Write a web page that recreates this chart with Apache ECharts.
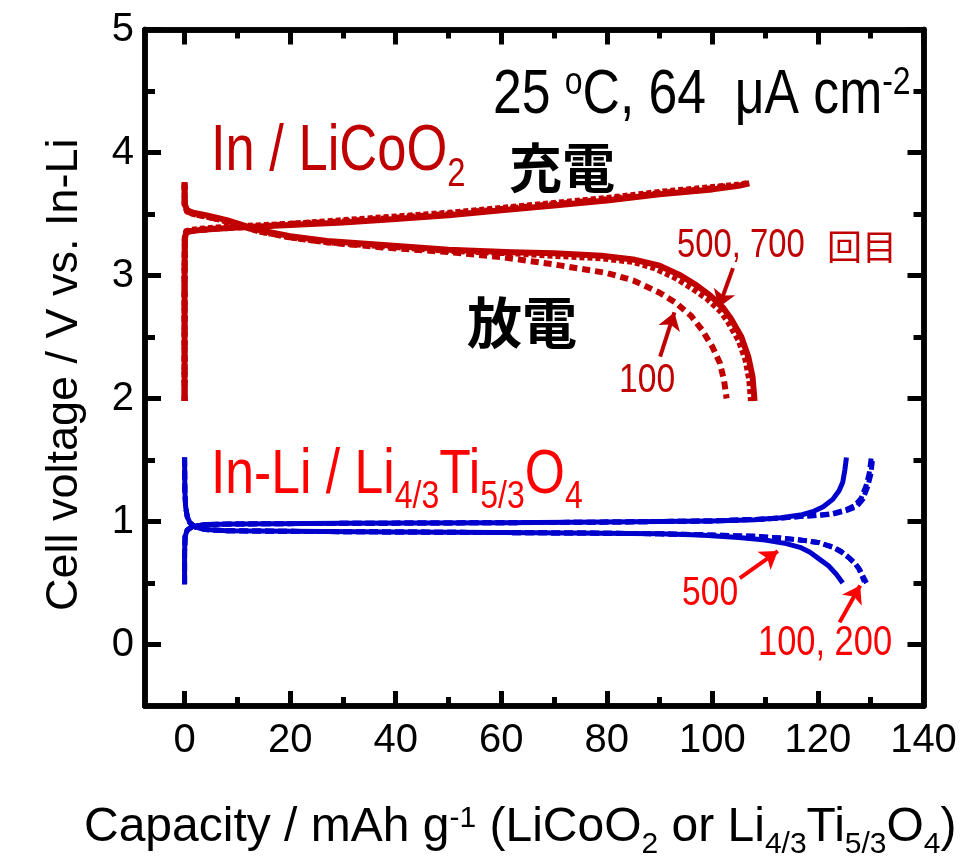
<!DOCTYPE html>
<html><head><meta charset="utf-8">
<script src="https://cdn.jsdelivr.net/npm/echarts@6/dist/echarts.min.js"></script>
<style>html,body{margin:0;padding:0;background:#fff}#c{width:978px;height:866px}</style>
</head><body><div id="c"></div>
<script>
// ---------- axis ticks ----------
const xTicks = [0, 20, 40, 60, 80, 100, 120, 140];
const xMinorTicks = [10, 30, 50, 70, 90, 110, 130];
const yTicks = [0, 1, 2, 3, 4, 5];
const yMinorTicks = [0.5, 1.5, 2.5, 3.5, 4.5];

// ---------- In / LiCoO2 : charge ----------
const lcoChg700X = [0, 0, 0.05, 0.3, 1, 3, 6, 10, 15, 20, 30, 40, 50, 60, 70, 80, 90, 100, 105, 107];
const lcoChg700V = [1.98, 3.0, 3.30, 3.35, 3.36, 3.37, 3.38, 3.39, 3.40, 3.41, 3.43, 3.46, 3.49, 3.53, 3.57, 3.61, 3.66, 3.70, 3.73, 3.75];
const lcoChg500X = [0, 0, 0.05, 0.3, 1, 3, 6, 10, 15, 20, 30, 40, 50, 60, 70, 80, 90, 100, 105, 106.5];
const lcoChg500V = [1.98, 3.0, 3.31, 3.36, 3.37, 3.38, 3.39, 3.40, 3.41, 3.42, 3.45, 3.48, 3.51, 3.55, 3.59, 3.63, 3.68, 3.72, 3.74, 3.75];
const lcoChg100X = [0, 0, 0.05, 0.3, 1, 3, 6, 10, 15, 20, 30, 40, 50, 60, 70, 80, 90, 100, 103];
const lcoChg100V = [1.98, 3.0, 3.30, 3.35, 3.36, 3.37, 3.38, 3.39, 3.40, 3.42, 3.44, 3.47, 3.50, 3.54, 3.58, 3.62, 3.67, 3.71, 3.73];

// ---------- In / LiCoO2 : discharge ----------
const lcoDis700X = [0, 0.02, 0.5, 1.6, 4, 8, 11, 14, 20, 27, 37, 50, 62, 70, 79, 85, 90, 94, 97, 99.5, 102, 103.5, 105.5, 106.8, 107.6, 108];
const lcoDis700V = [3.76, 3.58, 3.53, 3.51, 3.49, 3.45, 3.41, 3.37, 3.32, 3.28, 3.25, 3.21, 3.19, 3.18, 3.16, 3.13, 3.08, 3.00, 2.92, 2.84, 2.74, 2.65, 2.50, 2.34, 2.18, 1.98];
const lcoDis500X = [0, 0.02, 0.5, 1.6, 4, 8, 11, 14, 20, 27, 37, 50, 62, 70, 79, 85, 89, 93, 96, 99, 101.5, 103, 105, 106.3, 107, 107.3];
const lcoDis500V = [3.74, 3.57, 3.52, 3.50, 3.48, 3.44, 3.40, 3.36, 3.31, 3.27, 3.24, 3.20, 3.18, 3.16, 3.14, 3.11, 3.06, 2.98, 2.90, 2.81, 2.71, 2.62, 2.47, 2.31, 2.15, 1.98];
const lcoDis100X = [0, 0.02, 0.5, 1.6, 4, 8, 11, 14, 20, 27, 37, 50, 60, 70, 80, 85, 90, 93, 96, 98, 100, 101.4, 102.2, 102.7];
const lcoDis100V = [3.75, 3.57, 3.52, 3.50, 3.48, 3.44, 3.40, 3.36, 3.31, 3.27, 3.23, 3.19, 3.15, 3.09, 3.02, 2.96, 2.86, 2.78, 2.67, 2.56, 2.42, 2.29, 2.15, 2.00];

// ---------- In-Li / Li4/3Ti5/3O4 : upper branch ----------
const ltoUp500X = [0, 0, 0.1, 0.5, 1.5, 4, 10, 30, 60, 80, 100, 108, 113, 117, 119, 121, 122.8, 124, 124.7, 125.1, 125.4];
const ltoUp500V = [0.49, 0.75, 0.88, 0.93, 0.96, 0.975, 0.98, 0.985, 0.99, 0.995, 1.005, 1.015, 1.03, 1.055, 1.08, 1.12, 1.18, 1.25, 1.32, 1.42, 1.52];
const ltoUp100X = [0, 0, 0.1, 0.5, 1.5, 4, 10, 30, 60, 80, 100, 110, 116.6, 120, 122.8, 125.5, 127.3, 128.5, 129.4, 130, 130.4];
const ltoUp100V = [0.49, 0.75, 0.88, 0.93, 0.96, 0.975, 0.98, 0.985, 0.99, 0.995, 1.005, 1.02, 1.04, 1.05, 1.06, 1.09, 1.12, 1.18, 1.28, 1.38, 1.52];
const ltoUp200X = [0, 0, 0.1, 0.5, 1.5, 4, 10, 30, 60, 80, 100, 110, 116.6, 120, 122.8, 125.3, 127.0, 128.2, 129.1, 129.7, 130.1];
const ltoUp200V = [0.49, 0.75, 0.88, 0.93, 0.96, 0.975, 0.98, 0.985, 0.99, 0.995, 1.005, 1.02, 1.04, 1.05, 1.065, 1.095, 1.13, 1.19, 1.29, 1.39, 1.52];

// ---------- In-Li / Li4/3Ti5/3O4 : lower branch ----------
const ltoLo500X = [0, 0.05, 0.2, 0.5, 1, 2, 4, 8, 20, 40, 60, 79, 90, 97.6, 105, 110, 114, 116.6, 118.5, 120.4, 122, 123.5, 124.7];
const ltoLo500V = [1.52, 1.25, 1.12, 1.04, 0.99, 0.955, 0.935, 0.925, 0.92, 0.915, 0.91, 0.905, 0.90, 0.89, 0.87, 0.85, 0.82, 0.79, 0.75, 0.69, 0.64, 0.57, 0.50];
const ltoLo100X = [0, 0.05, 0.2, 0.5, 1, 2, 4, 8, 20, 40, 60, 79, 90, 100, 108, 113, 116.6, 120, 122.8, 124.5, 126, 127.2, 127.9, 128.6, 129.2];
const ltoLo100V = [1.52, 1.25, 1.12, 1.04, 0.99, 0.955, 0.935, 0.925, 0.92, 0.915, 0.91, 0.905, 0.90, 0.89, 0.88, 0.865, 0.85, 0.83, 0.79, 0.75, 0.70, 0.65, 0.61, 0.55, 0.50];
const ltoLo200X = [0, 0.05, 0.2, 0.5, 1, 2, 4, 8, 20, 40, 60, 79, 90, 100, 108, 113, 116.6, 120, 122.8, 124.3, 125.8, 127.0, 127.7, 128.3, 128.8];
const ltoLo200V = [1.52, 1.25, 1.12, 1.04, 0.99, 0.955, 0.935, 0.925, 0.92, 0.915, 0.91, 0.905, 0.90, 0.89, 0.88, 0.865, 0.85, 0.83, 0.795, 0.76, 0.71, 0.66, 0.62, 0.56, 0.51];

// ---------- annotation arrows (capacity, voltage): from -> to ----------
const arrowLco700 = [[103.9, 3.06], [101.2, 2.74]];
const arrowLco100 = [[90.1, 2.34], [92.8, 2.70]];
const arrowLto500 = [[105.2, 0.54], [112.4, 0.76]];
const arrowLto100 = [[124.1, 0.18], [128.0, 0.48]];

// ---------- fonts / colours ----------
const SANS = "'Liberation Sans Narrow','Arial Narrow','Liberation Sans',Arial,sans-serif";
const CJK = "'Noto Sans CJK JP','Noto Sans CJK SC',sans-serif";
const DARKRED = '#c00000';
const RED = '#ff0000';
const BLUE = '#0000cc';
const NARROW_SCALE = 0.82;

const zip = (xs, ys) => xs.map((x, i) => [x, ys[i]]);

function rich(s, color, key) {
  const ss = Math.round(s * 0.62);
  const c = {}; c[key] = color;
  return {
    m: Object.assign({fontSize: s, lineHeight: s, verticalAlign: 'top', fontFamily: SANS}, c),
    sub: Object.assign({fontSize: ss, verticalAlign: 'top', fontFamily: SANS, padding: [0.8465 * (s - ss) + 0.22 * s, 0, 0, 0]}, c),
    sup: Object.assign({fontSize: ss, verticalAlign: 'top', fontFamily: SANS, padding: [0, 0, 0, 0]}, c)
  };
}

function lineSeries(name, xs, ys, color, width, type) {
  return {
    name, type: 'line', data: zip(xs, ys), showSymbol: false, symbol: 'none',
    lineStyle: {color, width, type, cap: 'butt', join: 'round'},
    xAxisIndex: 0, yAxisIndex: 0, silent: true, z: 3
  };
}

function arrowSeries(name, arr, color) {
  return {
    name, type: 'line', data: [], xAxisIndex: 0, yAxisIndex: 0, silent: true,
    markLine: {
      silent: true, animation: false, symbol: ['none', 'arrow'], symbolSize: 17,
      label: {show: false},
      lineStyle: {color, width: 4, type: 'solid'},
      data: [[{coord: arr[0], symbol: 'none'}, {coord: arr[1], symbol: 'arrow', symbolSize: 17}]]
    }
  };
}

const XMIN = -7.5, XMAX = 140, YMIN = -0.5, YMAX = 5;
const axisLine = {show: true, onZero: false, lineStyle: {color: '#000', width: 5.5}};
function xAx(pos, ticks, len, withLabel, extra) {
  return Object.assign({
    type: 'value', position: pos, min: XMIN, max: XMAX,
    axisLine: axisLine, splitLine: {show: false},
    axisTick: {show: true, inside: true, length: len, customValues: ticks, lineStyle: {color: '#000', width: 5}},
    axisLabel: withLabel ? {show: true, customValues: ticks, fontSize: 40, lineHeight: 40, fontFamily: SANS, color: '#000', margin: 15} : {show: false}
  }, extra || {});
}
function yAx(pos, ticks, len, withLabel, extra) {
  return Object.assign({
    type: 'value', position: pos, min: YMIN, max: YMAX,
    axisLine: axisLine, splitLine: {show: false},
    axisTick: {show: true, inside: true, length: len, customValues: ticks, lineStyle: {color: '#000', width: 5}},
    axisLabel: withLabel ? {show: true, customValues: ticks, fontSize: 40, lineHeight: 40, fontFamily: SANS, color: '#000', margin: 11} : {show: false}
  }, extra || {});
}

function note(x, baseline, s, text, color, extraRich) {
  return {
    type: 'text', x: x, y: baseline - 0.8465 * s, scaleX: NARROW_SCALE, z: 10, silent: true,
    style: {text: text, rich: Object.assign(rich(s, color, 'fill'), extraRich || {}), align: 'left', verticalAlign: 'top'}
  };
}

const chart = echarts.init(document.getElementById('c'), null, {renderer: 'canvas'});

const option = {
  animation: false,
  backgroundColor: '#fff',
  grid: {left: 145, right: 54.5, top: 29.5, bottom: 160, containLabel: false, outerBoundsMode: 'none'},
  xAxis: [
    xAx('bottom', xTicks, 15, true, {
      name: '{m|Capacity / mAh g}{sup|-1}{m| (LiCoO}{sub|2}{m| or Li}{sub|4/3}{m|Ti}{sub|5/3}{m|O}{sub|4}{m|)}',
      nameLocation: 'middle', nameGap: 98,
      nameTextStyle: {rich: rich(48, '#000', 'color'), padding: [0, 28, 0, 0]}
    }),
    xAx('bottom', xMinorTicks, 9, false),
    xAx('top', xTicks, 15, false),
    xAx('top', xMinorTicks, 9, false)
  ],
  yAxis: [
    yAx('left', yTicks, 16, true, {
      name: '{m|Cell voltage / V vs. In-Li}',
      nameLocation: 'middle', nameGap: 58, nameRotate: 90,
      nameTextStyle: {rich: rich(45, '#000', 'color'), padding: [0, 14, 0, 0]}
    }),
    yAx('left', yMinorTicks, 10, false),
    yAx('right', yTicks, 16, false),
    yAx('right', yMinorTicks, 10, false)
  ],
  series: [
    lineSeries('LCO charge 100', lcoChg100X, lcoChg100V, DARKRED, 6, [8, 5]),
    lineSeries('LCO charge 500', lcoChg500X, lcoChg500V, DARKRED, 6, [5, 3]),
    lineSeries('LCO charge 700', lcoChg700X, lcoChg700V, DARKRED, 6, 'solid'),
    lineSeries('LCO discharge 100', lcoDis100X, lcoDis100V, DARKRED, 6, [8, 5]),
    lineSeries('LCO discharge 500', lcoDis500X, lcoDis500V, DARKRED, 6, [5, 3]),
    lineSeries('LCO discharge 700', lcoDis700X, lcoDis700V, DARKRED, 6, 'solid'),
    lineSeries('LTO up 100', ltoUp100X, ltoUp100V, BLUE, 5, [9, 4]),
    lineSeries('LTO up 200', ltoUp200X, ltoUp200V, BLUE, 5, [9, 4]),
    lineSeries('LTO up 500', ltoUp500X, ltoUp500V, BLUE, 5, 'solid'),
    lineSeries('LTO low 100', ltoLo100X, ltoLo100V, BLUE, 5, [9, 4]),
    lineSeries('LTO low 200', ltoLo200X, ltoLo200V, BLUE, 5, [9, 4]),
    lineSeries('LTO low 500', ltoLo500X, ltoLo500V, BLUE, 5, 'solid'),
    arrowSeries('arrow 500/700', arrowLco700, DARKRED),
    arrowSeries('arrow 100 LCO', arrowLco100, DARKRED),
    arrowSeries('arrow 500 LTO', arrowLto500, RED),
    arrowSeries('arrow 100/200 LTO', arrowLto100, RED)
  ],
  graphic: [
    note(493, 117, 63, '{m|25 }{sup|o}{m|C, 64  μA cm}{sup|-2}', '#000'),
    note(211, 175, 64, '{m|In / LiCoO}{sub|2}', DARKRED),
    {type: 'text', x: 562, y: 168, z: 10, silent: true,
     style: {text: '充電', font: 'bold 53px ' + CJK, fill: '#000', align: 'center', verticalAlign: 'middle'}},
    {type: 'text', x: 522, y: 322, z: 10, silent: true,
     style: {text: '放電', font: 'bold 55px ' + CJK, fill: '#000', align: 'center', verticalAlign: 'middle'}},
    note(677, 260, 40, '{m|500, 700}', DARKRED),
    {type: 'text', x: 827, y: 247, z: 10, silent: true,
     style: {text: '回目', font: '35px ' + CJK, fill: DARKRED, align: 'left', verticalAlign: 'middle'}},
    note(619, 395, 41, '{m|100}', DARKRED),
    note(211, 497, 63, '{m|In-Li / Li}{sub|4/3}{m|Ti}{sub|5/3}{m|O}{sub|4}', RED),
    note(682, 608, 41, '{m|500}', RED),
    note(758, 658, 42, '{m|100, 200}', RED)
  ]
};
chart.setOption(option);
</script></body></html>
